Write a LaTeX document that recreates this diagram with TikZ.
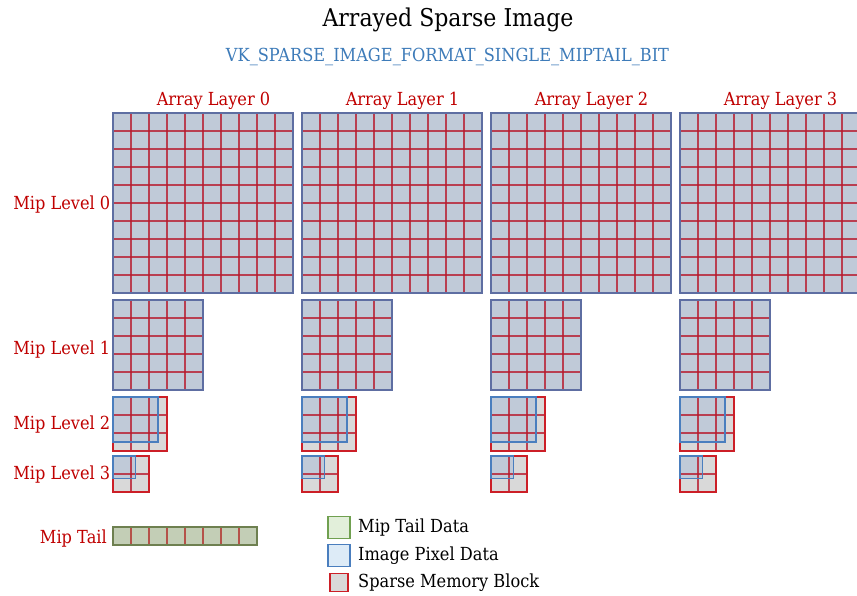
\documentclass[tikz,border=0pt]{standalone}
\usepackage{fontspec}
\setmainfont{DejaVu Serif}[FakeStretch=0.9]
\definecolor{pixfill}{HTML}{C0CAD8}
\definecolor{pixedge}{HTML}{5E6EA2}
\definecolor{gridred}{HTML}{B8182C}
\definecolor{memfill}{HTML}{D9D9D9}
\definecolor{memred}{HTML}{CC1F27}
\definecolor{pixblue}{HTML}{4A7EBE}
\definecolor{labelred}{HTML}{C00000}
\definecolor{subblue}{HTML}{3D7BB9}
\definecolor{tailfill}{HTML}{C3CEB6}
\definecolor{tailedge}{HTML}{6E8050}
\definecolor{tailline}{HTML}{B5524A}
\definecolor{legtailfill}{HTML}{E2EFDA}
\definecolor{legtailedge}{HTML}{70A050}
\definecolor{legpixfill}{HTML}{DDEBF7}
% interior red lines of an n x n block of 18pt cells at (x,y)
\newcommand\blocklines[3]{%
  \pgfmathtruncatemacro\nm{#3-1}%
  \foreach \i in {1,...,\nm}{%
    \draw[redgrid] ({#1+18*\i},#2) -- ++(0,{18*#3});
    \draw[redgrid] (#1,{#2+18*\i}) -- ++({18*#3},0);
  }}
\begin{document}
\begin{tikzpicture}[x=1pt,y=-1pt,
  redgrid/.style={draw=gridred, line width=1.8pt, opacity=0.78},
  pixedgestyle/.style={draw=pixedge, line width=1.4pt},
  memedge/.style={draw=memred, line width=1.6pt},
  pixbox/.style={draw=pixblue, line width=1.6pt},
  redlabel/.style={text=labelred, font=\fontsize{18}{21}\selectfont, inner sep=0pt},
  legtext/.style={text=black, font=\fontsize{18}{21}\selectfont, inner sep=0pt, anchor=base west},
  legsq/.style={minimum size=22pt, inner sep=0pt, line width=1.2pt}]
\useasboundingbox (0,0) rectangle (857,595);
\fill[white] (0,0) rectangle (857,595);

% titles
\node[inner sep=0pt, anchor=base, font=\fontsize{24.5}{28}\selectfont] (title) at (448,26.7) {Arrayed Sparse Image};
\node[inner sep=0pt, anchor=base, text=subblue, font=\fontsize{18}{21}\selectfont] (sub) at (447.5,61.5) {VK\_SPARSE\_IMAGE\_FORMAT\_SINGLE\_MIPTAIL\_BIT};

% array layer headings
\foreach \L in {0,...,3}{
  \node[redlabel, anchor=base] (layer\L) at ({213.5+189*\L},105) {Array Layer \L};
}

% mip level headings
\node[redlabel, anchor=base east] (mip0) at (110.5,209.5) {Mip Level 0};
\node[redlabel, anchor=base east] (mip1) at (110.5,354.5) {Mip Level 1};
\node[redlabel, anchor=base east] (mip2) at (110.5,429.5) {Mip Level 2};
\node[redlabel, anchor=base east] (mip3) at (110.5,479.5) {Mip Level 3};
\node[redlabel, anchor=base east] (tail) at (107,543.5) {Mip Tail};

\foreach \L in {0,...,3}{
  \pgfmathsetmacro\bx{113+189*\L}
  % mip level 0: 10 x 10 blocks
  \fill[pixfill] (\bx,113) rectangle ++(180,180);
  \blocklines{\bx}{113}{10}
  \draw[pixedgestyle] (\bx,113) rectangle ++(180,180);
  % mip level 1: 5 x 5 blocks
  \fill[pixfill] (\bx,300) rectangle ++(90,90);
  \blocklines{\bx}{300}{5}
  \draw[pixedgestyle] (\bx,300) rectangle ++(90,90);
  % mip level 2: 2.5 x 2.5 pixels in 3 x 3 blocks
  \fill[memfill] (\bx,397) rectangle ++(54,54);
  \fill[pixfill] (\bx,397) rectangle ++(45,45);
  \blocklines{\bx}{397}{3}
  \draw[memedge] (\bx,397) rectangle ++(54,54);
  \draw[pixbox] (\bx,397) rectangle ++(45,45);
  % mip level 3: 1.25 x 1.25 pixels in 2 x 2 blocks
  \fill[memfill] (\bx,456) rectangle ++(36,36);
  \fill[pixfill] (\bx,456) rectangle ++(22.5,22.5);
  \blocklines{\bx}{456}{2}
  \draw[memedge] (\bx,456) rectangle ++(36,36);
  \draw[pixbox] (\bx,456) rectangle ++(22.5,22.5);
}

% mip tail strip: 8 blocks
\fill[tailfill] (113,527) rectangle ++(144,18);
\foreach \i in {1,...,7}{
  \draw[draw=tailline, line width=1.4pt] ({113+18*\i},527) -- ++(0,18);
}
\draw[draw=tailedge, line width=1.4pt] (113,527) rectangle ++(144,18);

% legend
\node[legsq, fill=legtailfill, draw=legtailedge] (lgtail) at (339,527.8) {};
\node[legsq, fill=legpixfill, draw=pixblue] (lgpix) at (339,555.3) {};
\node[legsq, minimum size=18pt, fill=memfill, draw=memred] (lgmem) at (339,582.2) {};
\node[legtext] (lgtailtxt) at (358,532.5) {Mip Tail Data};
\node[legtext] (lgpixtxt) at (358,560.2) {Image Pixel Data};
\node[legtext] (lgmemtxt) at (358,587.5) {Sparse Memory Block};
\end{tikzpicture}
\end{document}
